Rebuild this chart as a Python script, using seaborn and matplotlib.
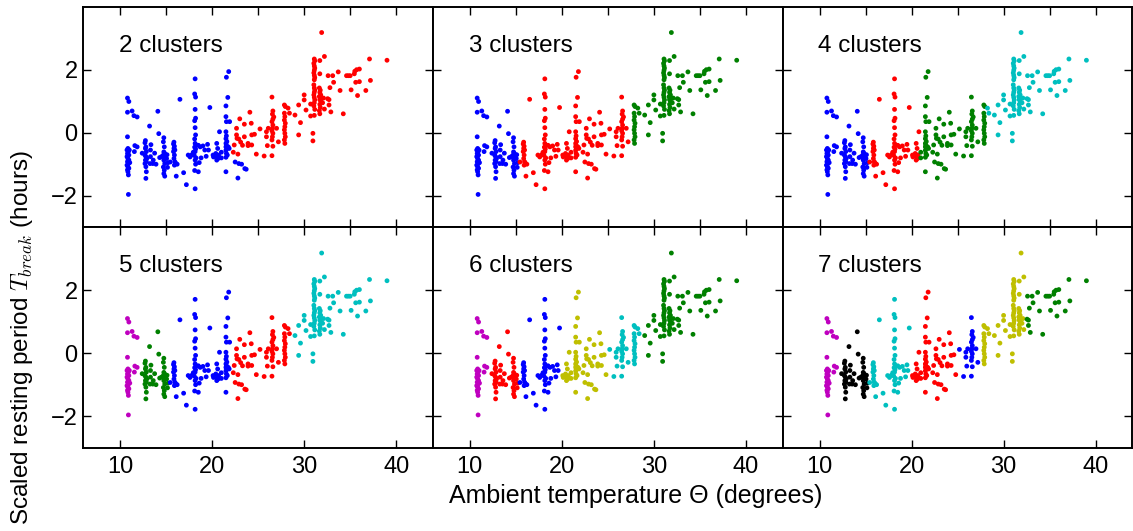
import numpy as np
import pandas as pd
import matplotlib
matplotlib.use("Agg")
import matplotlib.pyplot as plt
import seaborn as sns

# ---------------- data ----------------
cold_temp = [10.80, 10.95, 10.80, 11.30, 11.50, 11.85, 10.80, 10.85, 10.75, 10.90, 10.80, 10.95,
             10.75, 10.85, 10.95, 10.80, 10.90, 10.75, 10.85, 10.95, 10.80, 10.85, 10.90, 10.90,
             11.00, 11.05, 11.60, 11.85, 11.55]
cold_tbreak = [1.10, 0.99, 0.65, 0.69, 0.54, 0.50, -0.13, -0.50, -0.55, -0.60, -0.66, -0.71,
               -0.76, -0.82, -0.87, -0.92, -0.98, -1.03, -1.08, -1.13, -1.18, -1.24, -1.34, -1.96,
               -0.55, -0.95, -0.41, -0.45, -0.60]

cool_temp = [12.75, 12.70, 12.80, 12.75, 12.85, 12.70, 12.80, 12.90, 12.75, 12.85, 12.70, 12.80,
             12.85, 12.80, 12.40, 13.20, 13.35, 13.30, 13.30, 13.25, 13.60, 13.55, 13.75, 14.10,
             14.20, 14.30, 13.90, 14.75, 14.70, 14.80, 14.75, 14.85, 14.70, 14.80, 14.75, 14.85,
             14.70, 14.80, 14.75, 14.85, 15.05, 15.10, 14.50, 15.15, 15.20]
cool_tbreak = [-0.25, -0.32, -0.45, -0.50, -0.60, -0.71, -0.76, -0.82, -0.87, -0.92, -0.98, -1.08,
               -1.24, -1.45, -0.65, 0.21, -0.38, -0.55, -0.76, -0.98, -0.87, -0.98, -0.65, 0.68,
               -0.03, -0.79, -1.00, -0.16, -0.29, -0.45, -0.61, -0.66, -0.71, -0.77, -0.87, -0.98,
               -1.09, -1.19, -1.30, -1.38, -0.82, -0.70, -0.76, -1.10, -0.95]

mild_temp = [15.85, 15.80, 15.90, 15.85, 15.95, 15.80, 15.90, 15.85, 15.95, 15.90, 16.05, 16.20,
             15.45, 16.10, 16.50, 16.90, 17.20, 17.40, 17.60, 17.80,
             18.15, 18.10, 18.20, 18.15, 18.20, 18.10, 18.15, 18.20, 18.10, 18.15, 18.25, 18.10,
             18.20, 18.15, 18.05, 18.25, 18.15, 18.20, 18.10, 18.15,
             17.95, 18.50, 18.70, 19.00, 19.20, 18.50, 18.60, 18.80, 19.75, 19.50, 19.60, 19.35]
mild_tbreak = [-0.30, -0.36, -0.43, -0.50, -0.55, -0.60, -0.71, -0.82, -0.92, -1.03, -0.97, -1.00,
               -0.93, -1.38, 1.06, -1.27, -1.65, -0.71, -0.77, -0.70,
               1.71, 1.23, 1.13, 0.74, 0.46, 0.38, 0.16, -0.07, -0.20, -0.34, -0.40, -0.46,
               -0.52, -0.60, -0.72, -0.80, -0.87, -1.00, -1.20, -1.78,
               -0.62, -0.40, -0.45, -0.42, -0.55, -1.24, -0.95, -0.80, 0.80, -0.37, -0.55, -0.75]

warm_temp = [20.50, 20.60, 20.40, 20.70, 20.55, 20.65, 20.50, 20.10, 20.15, 20.80, 21.00, 21.00,
             21.80, 21.55, 21.70, 21.50, 21.50, 21.55, 21.90, 21.50, 21.55, 21.50, 21.60, 21.50,
             21.55, 21.50, 21.60, 21.50, 21.55, 21.65, 21.50, 21.50, 21.85, 21.75,
             22.30, 22.40, 22.50, 22.90, 23.20, 23.70, 22.80, 23.55,
             23.00, 22.65, 22.65, 22.70, 22.90, 22.80, 23.50, 23.50, 23.30, 23.90, 23.90, 24.10,
             24.25, 24.30, 24.30, 24.60, 24.80, 23.10]
warm_tbreak = [-0.34, -0.50, -0.66, -0.71, -0.77, -0.82, -0.87, -0.71, -0.77, 0.03, -0.62, -0.80,
               1.94, 1.76, 1.12, 0.85, 0.51, 0.35, 0.35, 0.03, -0.10, -0.19, -0.28, -0.34,
               -0.40, -0.45, -0.50, -0.56, -0.66, -0.71, -0.78, -1.24, -0.50, -0.45,
               -0.62, -0.39, -0.93, -0.98, -1.00, -1.16, -1.44, -1.14,
               0.44, 0.14, -0.07, -0.18, -0.20, -0.68, 0.27, -0.13, -0.40, -0.41, -0.34, 0.65,
               0.30, -0.07, -0.39, -0.05, -0.68, -0.30]

hot_temp = [25.20, 25.65, 25.90, 25.90, 26.00, 26.10, 26.50, 26.60, 26.55, 26.60, 26.50, 26.60,
            26.55, 26.50, 26.60, 26.55, 26.50, 26.60, 26.50, 26.70, 27.00, 27.20,
            27.85, 27.95, 27.85, 27.90, 27.85, 27.95, 27.90, 27.85, 27.90, 27.95, 27.85, 27.90,
            28.25, 28.40]
hot_tbreak = [0.12, -0.74, 0.03, -0.13, -0.41, 0.14, 1.13, 0.69, 0.59, 0.43, 0.35, 0.24,
              0.14, 0.06, -0.02, -0.13, -0.23, -0.43, -0.73, 0.50, 0.14, -0.29,
              0.88, 0.83, 0.62, 0.51, 0.40, 0.30, 0.19, 0.09, -0.02, -0.13, -0.23, -0.34,
              0.78, 0.62]

scorch_temp = [29.00, 29.40, 29.60, 29.40, 30.00, 30.00, 30.20, 30.70, 30.70, 30.95, 30.95,
               31.10, 31.15, 31.05, 31.10, 31.15, 31.10, 31.05, 31.10, 31.15, 31.10, 31.05,
               31.10, 31.15, 31.10, 31.05, 31.10, 31.15, 31.10, 31.05, 31.15, 31.10,
               31.70, 31.70, 31.65, 31.75, 31.70, 31.80, 31.65, 31.75, 31.70, 31.80, 31.70,
               31.75, 31.65, 31.70,
               31.90, 32.20, 32.10, 32.00, 32.20,
               32.55, 32.70, 32.70, 32.60, 32.80, 32.90, 33.10, 33.20, 33.70, 33.90, 34.25,
               34.60, 34.80, 35.00, 35.10, 35.50, 35.45, 35.70, 36.00, 35.60, 35.80, 36.00,
               36.70, 37.10, 37.20, 39.00]
scorch_tbreak = [0.56, 0.88, 0.32, -0.07, 1.20, 1.04, 0.72, 0.91, 0.53, -0.02, -0.26,
                 2.34, 2.28, 2.20, 2.12, 2.05, 1.98, 1.90, 1.82, 1.75, 1.68, 1.52,
                 1.42, 1.35, 1.28, 1.20, 1.12, 1.04, 0.95, 0.85, 0.74, 0.55,
                 2.29, 1.87, 1.42, 1.35, 1.28, 1.20, 1.15, 1.10, 1.05, 1.00, 0.90,
                 0.80, 0.70, 0.60,
                 3.18, 2.42, 1.10, 0.95, 0.75,
                 1.08, 1.05, 0.88, 1.81, 1.43, 0.66, 1.81, 1.60, 1.93, 1.34, 0.60,
                 1.81, 1.81, 1.81, 1.36, 1.95, 1.87, 2.00, 2.02, 1.60, 1.18, 1.62,
                 1.34, 2.34, 1.66, 2.30]

# cluster boundaries along temperature
n_clusters = [2, 3, 4, 5, 6, 7]
boundaries = {
    2: [22.0],
    3: [15.35, 27.3],
    4: [15.35, 21.0, 28.0],
    5: [12.1, 15.35, 22.0, 28.5],
    6: [12.1, 15.35, 19.9, 24.95, 28.6],
    7: [12.1, 15.35, 19.9, 24.95, 27.3, 32.35],
}
cluster_colors = {
    2: ["b", "r"],
    3: ["b", "r", "g"],
    4: ["b", "r", "g", "c"],
    5: ["m", "g", "b", "r", "c"],
    6: ["m", "r", "b", "y", "c", "g"],
    7: ["m", "k", "c", "r", "b", "y", "g"],
}
# in the 2-cluster panel the low points just above 22 degrees stay in the first cluster
low_cut_temp = 24.0
low_cut_tbreak = -0.85

temp = np.array(cold_temp + cool_temp + mild_temp + warm_temp + hot_temp + scorch_temp)
tbreak = np.array(cold_tbreak + cool_tbreak + mild_tbreak + warm_tbreak + hot_tbreak + scorch_tbreak)

rgb = {"b": (0, 0, 1), "r": (1, 0, 0), "g": (0, 0.5, 0), "c": (0, 0.75, 0.75),
       "m": (0.75, 0, 0.75), "y": (0.75, 0.75, 0), "k": (0, 0, 0)}

# ---------------- style ----------------
sns.set_style("ticks")
plt.rcParams.update({
    "font.family": ["Liberation Sans", "DejaVu Sans"],
    "mathtext.fontset": "cm",
    "xtick.direction": "in",
    "ytick.direction": "in",
    "xtick.top": True,
    "ytick.right": True,
    "axes.edgecolor": "black",
    "axes.linewidth": 1.4,
    "xtick.color": "black",
    "ytick.color": "black",
    "text.color": "black",
    "axes.labelcolor": "black",
})

W, H = 1133, 531
fig, axes = plt.subplots(2, 3, figsize=(W / 100, H / 100), dpi=100)
fig.subplots_adjust(left=83.3 / W, right=0.9995, top=1 - 6.7 / H, bottom=1 - 447.7 / H,
                    wspace=0, hspace=0)

for idx, k in enumerate(n_clusters):
    r, c = divmod(idx, 3)
    ax = axes[r, c]
    labels = np.searchsorted(boundaries[k], temp, side="right")
    if k == 2:
        labels[(temp < low_cut_temp) & (tbreak < low_cut_tbreak)] = 0
    df = pd.DataFrame({"temp": temp, "tbreak": tbreak, "cluster": labels})
    pal = {i: rgb[col] for i, col in enumerate(cluster_colors[k])}
    sns.scatterplot(data=df, x="temp", y="tbreak", hue="cluster", palette=pal,
                    legend=False, s=12, linewidth=0, ax=ax, zorder=3)
    ax.set_xlim(6, 44)
    ax.set_ylim(-3, 4)
    ax.set_xticks([10, 20, 30, 40])
    ax.set_xticks([15, 25, 35], minor=True)
    ax.set_yticks([-2, 0, 2])
    ax.tick_params(which="both", direction="in", length=5.5, width=1.0,
                   top=True, right=True, labelsize=17)
    ax.tick_params(axis="x", pad=6)
    ax.tick_params(axis="y", pad=4)
    if r == 1:
        ax.tick_params(axis="x", which="minor", bottom=False, top=True)
    else:
        ax.tick_params(axis="x", labelbottom=False)
    if c != 0:
        ax.tick_params(axis="y", labelleft=False)
    ax.set_xlabel("")
    ax.set_ylabel("")
    ax.text(0.102, 0.795, f"{k} clusters", transform=ax.transAxes,
            fontsize=17.5, ha="left", va="baseline")

axes[1, 0].set_ylabel(r"Scaled resting period $T_{break}$ (hours)", fontsize=17.5)
axes[1, 0].yaxis.set_label_coords(-0.138, 0.5)
fig.text(0.561, 0.066, "Ambient temperature Θ (degrees)", fontsize=18,
         ha="center", va="center")

fig.savefig("out.png", dpi=100)
